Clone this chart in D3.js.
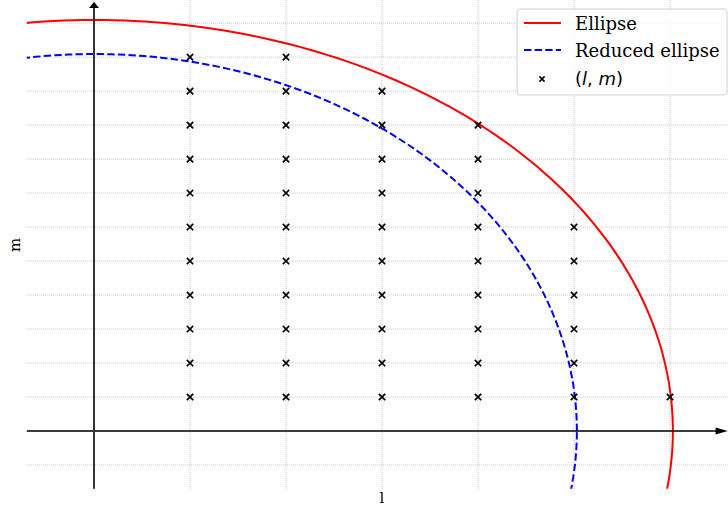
<!DOCTYPE html>
<html><head><meta charset="utf-8">
<script src="https://cdn.jsdelivr.net/npm/d3@7"></script>
<style>body{margin:0;background:#fff}svg{display:block}</style>
</head><body>
<svg id="c" width="728" height="508"></svg>
<script>
// ---- data ----
const ellipseA = 6.03, ellipseB = 12.09;      // outer ellipse semi-axes
const reducedA = 5.03, reducedB = 11.09;      // reduced ellipse semi-axes
const lColumns = [1, 2, 3, 4, 5, 6];          // lattice l values
const mTops    = [11, 11, 10, 9, 6, 1];       // highest m in each column
const xGridTicks = [0, 1, 2, 3, 4, 5, 6];
const yGridTicks = [-1, 0, 1, 2, 3, 4, 5, 6, 7, 8, 9, 10, 11, 12];
const legendLabels = ["Ellipse", "Reduced ellipse"];

const points = [];
lColumns.forEach((l, i) => d3.range(1, mTops[i] + 1).forEach(m => points.push({l, m})));

const svg = d3.select("#c");
const x = d3.scaleLinear().domain([-0.7, 6.6]).range([26.8, 727.6]);
const y = d3.scaleLinear().domain([-1.7, 12.68]).range([488.8, 0]);
const [x0, x1] = x.range(), [yb, yt] = y.range();

svg.append("defs").append("clipPath").attr("id", "clip")
  .append("rect").attr("x", x0).attr("y", yt).attr("width", x1 - x0).attr("height", yb - yt);

// grid
const g = svg.append("g");
g.selectAll(".vg").data(xGridTicks).join("line")
  .attr("x1", d => x(d)).attr("x2", d => x(d)).attr("y1", yt).attr("y2", yb)
  .attr("stroke", "#b8b8b8").attr("stroke-width", 0.8).attr("stroke-dasharray", "1,1");
g.selectAll(".hg").data(yGridTicks).join("line")
  .attr("y1", d => y(d)).attr("y2", d => y(d)).attr("x1", x0).attr("x2", x1)
  .attr("stroke", "#b8b8b8").attr("stroke-width", 0.8).attr("stroke-dasharray", "1,1");

// ellipses
function ellipsePts(a, b) {
  return d3.range(0, 361).map(t => { const th = t * Math.PI / 180; return [a * Math.cos(th), b * Math.sin(th)]; });
}
const line = d3.line().x(d => x(d[0])).y(d => y(d[1]));
const cg = svg.append("g").attr("clip-path", "url(#clip)");
cg.append("path").attr("d", line(ellipsePts(ellipseA, ellipseB)))
  .attr("fill", "none").attr("stroke", "#ff0000").attr("stroke-width", 2);
cg.append("path").attr("d", line(ellipsePts(reducedA, reducedB)))
  .attr("fill", "none").attr("stroke", "#0000ff").attr("stroke-width", 2).attr("stroke-dasharray", "7.4,3.2");

// axes
svg.append("line").attr("x1", x0).attr("x2", x1 - 8).attr("y1", y(0)).attr("y2", y(0))
  .attr("stroke", "#000").attr("stroke-width", 1.4);
svg.append("path").attr("d", `M${x1},${y(0)} L${x1 - 12},${y(0) - 3.5} L${x1 - 12},${y(0) + 3.5} Z`).attr("fill", "#000");
svg.append("line").attr("x1", x(0)).attr("x2", x(0)).attr("y1", yb).attr("y2", 7)
  .attr("stroke", "#333").attr("stroke-width", 2);
svg.append("path").attr("d", `M${x(0)},2 L${x(0) - 5},8 L${x(0) + 5},8 Z`).attr("fill", "#000");

// points
const ms = 3.2;
svg.append("g").selectAll("path").data(points).join("path")
  .attr("d", d => `M${x(d.l) - ms},${y(d.m) - ms}L${x(d.l) + ms},${y(d.m) + ms}M${x(d.l) - ms},${y(d.m) + ms}L${x(d.l) + ms},${y(d.m) - ms}`)
  .attr("stroke", "#000").attr("stroke-width", 1.7).attr("fill", "none");

// axis labels
svg.append("text").attr("x", x(3)).attr("y", 503).attr("text-anchor", "middle")
  .attr("font-family", "DejaVu Serif").attr("font-size", 15).text("l");
svg.append("text").attr("transform", "translate(20,245) rotate(-90)").attr("text-anchor", "middle")
  .attr("font-family", "DejaVu Serif").attr("font-size", 15).text("m");

// legend
const lg = svg.append("g");
lg.append("rect").attr("x", 517).attr("y", 9).attr("width", 210).attr("height", 86).attr("rx", 3)
  .attr("fill", "rgba(255,255,255,0.8)").attr("stroke", "#d0d0d0").attr("stroke-width", 1);
lg.append("line").attr("x1", 524).attr("x2", 561).attr("y1", 23).attr("y2", 23).attr("stroke", "#ff0000").attr("stroke-width", 2);
lg.append("line").attr("x1", 524).attr("x2", 561).attr("y1", 50).attr("y2", 50).attr("stroke", "#0000ff").attr("stroke-width", 2).attr("stroke-dasharray", "7.4,3.2");
const lm = 2.6, lx = 542, ly = 79;
lg.append("path").attr("d", `M${lx - lm},${ly - lm}L${lx + lm},${ly + lm}M${lx - lm},${ly + lm}L${lx + lm},${ly - lm}`)
  .attr("stroke", "#000").attr("stroke-width", 1.6);
legendLabels.forEach((t, i) => lg.append("text").attr("x", 575).attr("y", 29.5 + i * 27.5)
  .attr("font-family", "DejaVu Serif").attr("font-size", 18).text(t));
const mt = lg.append("text").attr("x", 575).attr("y", 85).attr("font-family", "DejaVu Sans").attr("font-size", 18);
mt.append("tspan").text("(");
mt.append("tspan").attr("font-style", "italic").text("l");
mt.append("tspan").text(", ");
mt.append("tspan").attr("font-style", "italic").text("m");
mt.append("tspan").text(")");
</script>
</body></html>
